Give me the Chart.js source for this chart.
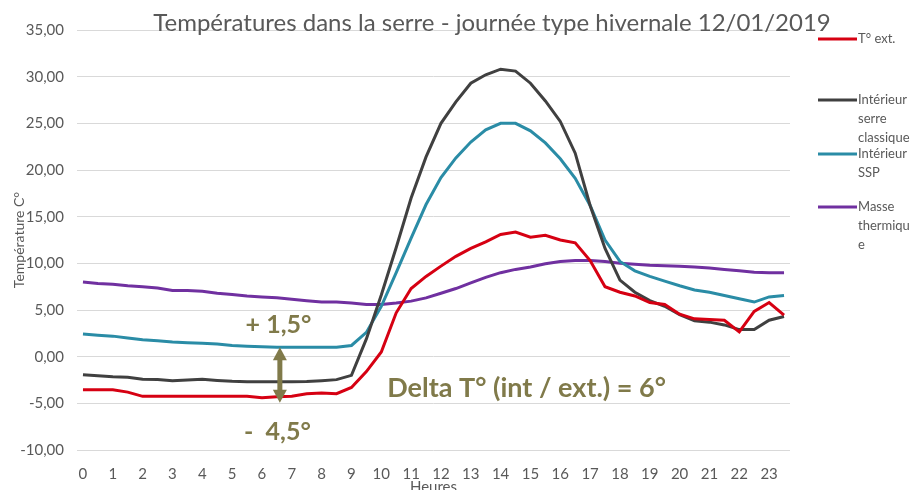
<!DOCTYPE html>
<html>
<head>
<meta charset="utf-8">
<script src="https://cdn.jsdelivr.net/npm/chart.js@4.4.1/dist/chart.umd.min.js"></script>
<style>
  html, body { margin: 0; padding: 0; background: #fff; }
  #wrap { width: 922px; height: 490px; }
</style>
</head>
<body>
<div id="wrap"><canvas id="lineChart" width="922" height="490"></canvas></div>
<script>
// heures (pas d'une demi-heure)
var hours = [0, 0.5, 1, 1.5, 2, 2.5, 3, 3.5, 4, 4.5, 5, 5.5, 6, 6.5, 7, 7.5, 8, 8.5, 9, 9.5, 10, 10.5, 11, 11.5,
             12, 12.5, 13, 13.5, 14, 14.5, 15, 15.5, 16, 16.5, 17, 17.5, 18, 18.5, 19, 19.5, 20, 20.5, 21, 21.5, 22, 22.5, 23, 23.5];

var tExt = [-3.54, -3.54, -3.54, -3.8, -4.25, -4.25, -4.25, -4.25, -4.25, -4.25, -4.25, -4.25,
            -4.4, -4.3, -4.25, -3.97, -3.9, -3.97, -3.3, -1.6, 0.5, 4.7, 7.3, 8.6,
            9.7, 10.75, 11.6, 12.3, 13.1, 13.36, 12.8, 13.0, 12.5, 12.2, 10.3, 7.5,
            6.9, 6.5, 5.8, 5.6, 4.55, 4.05, 3.97, 3.9, 2.65, 4.85, 5.8, 4.45];

var serreClassique = [-1.93, -2.05, -2.15, -2.2, -2.43, -2.45, -2.57, -2.5, -2.43, -2.55, -2.64, -2.68,
                      -2.68, -2.68, -2.68, -2.65, -2.57, -2.46, -2.0, 1.9, 6.6, 11.7, 17.0, 21.4,
                      25.0, 27.3, 29.3, 30.2, 30.8, 30.6, 29.3, 27.4, 25.2, 21.8, 16.2, 11.6,
                      8.2, 6.9, 6.0, 5.4, 4.5, 3.85, 3.7, 3.4, 2.9, 2.9, 3.9, 4.3];

var serreSSP = [2.43, 2.3, 2.2, 2.0, 1.82, 1.7, 1.58, 1.5, 1.45, 1.35, 1.2, 1.12,
                1.05, 1.0, 1.0, 1.0, 1.0, 1.0, 1.2, 2.6, 5.4, 9.0, 12.7, 16.3,
                19.2, 21.3, 23.0, 24.3, 25.0, 25.0, 24.2, 22.9, 21.2, 19.1, 16.2, 12.5,
                10.2, 9.2, 8.6, 8.1, 7.6, 7.15, 6.9, 6.55, 6.2, 5.85, 6.4, 6.55];

var masseThermique = [8.0, 7.85, 7.75, 7.6, 7.5, 7.35, 7.1, 7.1, 7.0, 6.8, 6.65, 6.5,
                      6.4, 6.3, 6.15, 6.0, 5.85, 5.85, 5.75, 5.6, 5.6, 5.75, 5.95, 6.3,
                      6.8, 7.3, 7.9, 8.5, 9.0, 9.35, 9.6, 9.95, 10.2, 10.3, 10.3, 10.2,
                      10.0, 9.9, 9.8, 9.75, 9.7, 9.6, 9.5, 9.35, 9.2, 9.05, 9.0, 9.0];

var seriesLabels = ["T° ext.", "Intérieur serre classique", "Intérieur SSP", "Masse thermique"];
// libellés tels que coupés dans la légende d'origine
var legendLines = [["T° ext."], ["Intérieur", "serre", "classique"], ["Intérieur", "SSP"], ["Masse", "thermiqu", "e"]];
var colors = ["rgb(214,0,18)", "rgb(64,64,64)", "rgb(42,140,166)", "rgb(112,48,160)"];

var yTicks = [-10, -5, 0, 5, 10, 15, 20, 25, 30, 35];

var gris = "#595959";
var olive = "rgb(128,122,74)";

function pts(values) {
    return hours.map(function (h, i) { return { x: h, y: values[i] }; });
}

var overlay = {
    id: 'overlay',
    afterDraw: function (chart) {
        var ctx = chart.ctx;
        var sx = chart.scales.x, sy = chart.scales.y;
        ctx.save();

        // titre
        ctx.fillStyle = gris;
        ctx.font = '24px Lato';
        ctx.textAlign = 'center';
        ctx.textBaseline = 'alphabetic';
        ctx.fillText("Températures dans la serre - journée type hivernale 12/01/2019", 492, 31);

        // légende
        var legendY = [39, 100, 154, 207];
        ctx.font = '13px Lato';
        ctx.textAlign = 'left';
        ctx.textBaseline = 'middle';
        for (var i = 0; i < legendLines.length; i++) {
            ctx.strokeStyle = colors[i];
            ctx.lineWidth = 3;
            ctx.beginPath();
            ctx.moveTo(818, legendY[i]);
            ctx.lineTo(857, legendY[i]);
            ctx.stroke();
            for (var j = 0; j < legendLines[i].length; j++) {
                ctx.fillText(legendLines[i][j], 858, legendY[i] + j * 19);
            }
        }

        // annotations
        ctx.fillStyle = olive;
        ctx.font = 'bold 25px Lato';
        ctx.fillText("+ 1,5°", sx.getPixelForValue(5.45), sy.getPixelForValue(3.4));
        ctx.fillText("-  4,5°", sx.getPixelForValue(5.4), sy.getPixelForValue(-8.1));
        ctx.font = 'bold 27px Lato';
        ctx.fillText("Delta T° (int / ext.) = 6°", sx.getPixelForValue(10.2), sy.getPixelForValue(-3.4));

        // double flèche
        var ax = sx.getPixelForValue(6.6);
        var top = sy.getPixelForValue(1.0);
        var bot = sy.getPixelForValue(-4.95);
        var hw = 7, hl = 13;
        ctx.strokeStyle = olive;
        ctx.lineWidth = 5;
        ctx.beginPath();
        ctx.moveTo(ax, top + hl - 1);
        ctx.lineTo(ax, bot - hl + 1);
        ctx.stroke();
        ctx.beginPath();
        ctx.moveTo(ax, top);
        ctx.lineTo(ax - hw, top + hl);
        ctx.lineTo(ax + hw, top + hl);
        ctx.closePath();
        ctx.fill();
        ctx.beginPath();
        ctx.moveTo(ax, bot);
        ctx.lineTo(ax - hw, bot - hl);
        ctx.lineTo(ax + hw, bot - hl);
        ctx.closePath();
        ctx.fill();

        ctx.restore();
    }
};

var valueSets = [tExt, serreClassique, serreSSP, masseThermique];

var ctxL = document.getElementById("lineChart").getContext('2d');
var myLineChart = new Chart(ctxL, {
    type: 'line',
    data: {
        datasets: valueSets.map(function (v, i) {
            return {
                label: seriesLabels[i],
                data: pts(v),
                borderColor: colors[i],
                backgroundColor: colors[i],
                borderWidth: 3,
                pointRadius: 0,
                tension: 0,
                fill: false
            };
        })
    },
    options: {
        responsive: false,
        animation: false,
        layout: { padding: { top: 30, right: 132, left: 0, bottom: 0 } },
        plugins: {
            legend: { display: false },
            title: { display: false },
            tooltip: { enabled: false }
        },
        scales: {
            x: {
                type: 'linear',
                min: -0.2,
                max: 23.7,
                grid: { display: false },
                border: { display: false },
                ticks: {
                    stepSize: 1,
                    includeBounds: false,
                    autoSkip: false,
                    maxRotation: 0,
                    padding: 7,
                    color: gris,
                    font: { family: 'Lato', size: 15 }
                },
                title: {
                    display: true,
                    text: 'Heures',
                    color: gris,
                    font: { family: 'Lato', size: 15 },
                    padding: { top: 0, bottom: -6 }
                },
                afterFit: function (scale) { scale.height = 40; }
            },
            y: {
                min: -10,
                max: 35,
                grid: { color: '#d9d9d9', lineWidth: 1, drawTicks: false },
                border: { display: false },
                afterBuildTicks: function (scale) {
                    scale.ticks = yTicks.map(function (v) { return { value: v }; });
                },
                ticks: {
                    padding: 13,
                    color: gris,
                    font: { family: 'Lato', size: 15 },
                    callback: function (v) { return v.toFixed(2).replace('.', ','); }
                },
                title: {
                    display: true,
                    text: 'Température C°',
                    color: gris,
                    font: { family: 'Lato', size: 14 },
                    padding: { top: 11, bottom: 0 }
                },
                afterFit: function (scale) { scale.width = 77; }
            }
        }
    },
    plugins: [overlay]
});
</script>
</body>
</html>
